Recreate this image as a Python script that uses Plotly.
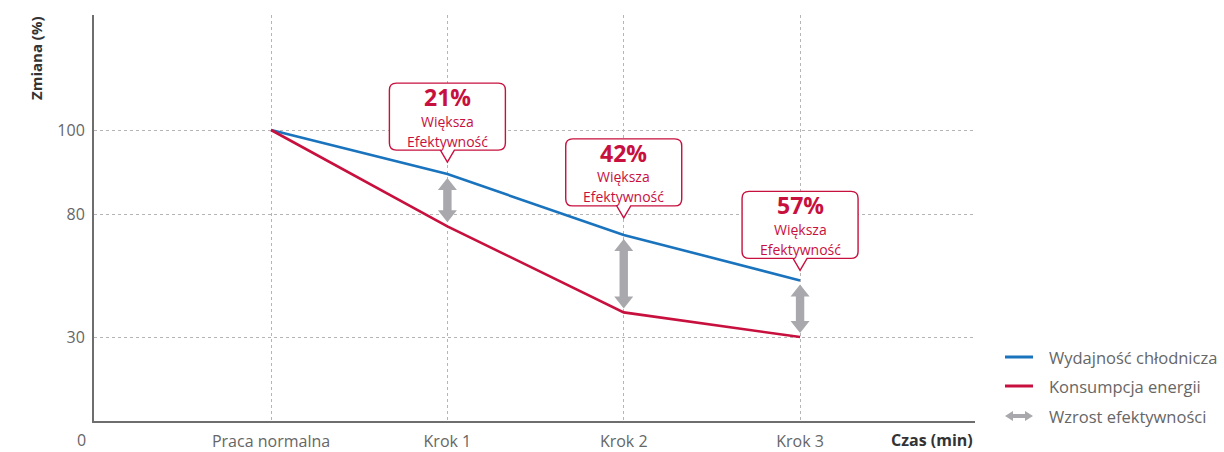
import numpy as np
import plotly.graph_objects as go

# ---------------- data ----------------
categories = ["Praca normalna", "Krok 1", "Krok 2", "Krok 3"]
cooling_capacity = [100, 89.5, 71.5, 53]      # Wydajność chłodnicza (%)
energy_use = [100, 75, 40, 30]                 # Konsumpcja energii (%)
efficiency_gain = ["21%", "42%", "57%"]        # Większa Efektywność
y_tick_values = [30, 80, 100]
y_tick_labels = ["30", "80", "100"]

# ---------------- scale (non-linear axis, as in the reference) ----------------
SCALE_VALUES = [0, 30, 80, 100]
SCALE_POS = [0, 84, 207, 291]


def ypos(v):
    return float(np.interp(v, SCALE_VALUES, SCALE_POS))


xs = list(range(1, len(categories) + 1))
blue_pos = [ypos(v) for v in cooling_capacity]
red_pos = [ypos(v) for v in energy_use]

BLUE = "#1a73bd"
RED = "#c8103e"
GRAY = "#a9a9ad"
TXT = "#666666"
FONT = "Open Sans"

W, H = 1224, 452
L, T = 94, 15
R = W - 975
B = H - 421
plot_w = W - L - R
plot_h = H - T - B
X_RANGE = [-0.004, 4.992]
K = plot_w / (X_RANGE[1] - X_RANGE[0])  # px per x unit

fig = go.Figure()
fig.add_trace(go.Scatter(x=xs, y=blue_pos, mode="lines",
                         line=dict(color=BLUE, width=2.6), name="Wydajność chłodnicza",
                         hoverinfo="skip"))
fig.add_trace(go.Scatter(x=xs, y=red_pos, mode="lines",
                         line=dict(color=RED, width=2.6), name="Konsumpcja energii",
                         hoverinfo="skip"))

shapes = []
annotations = []

# callouts and double arrows at Krok 1..3
tip_offsets = [12, 17, 10]
for i, lab in enumerate(efficiency_gain):
    cx = xs[i + 1]
    bp = blue_pos[i + 1]
    rp = red_pos[i + 1]
    # double arrow
    y1 = bp - 4
    y0 = rp + 4
    hw, sw, hh = 9.5 / K, 4.2 / K, 12
    p = (f"M {cx},{y1} L {cx+hw},{y1-hh} L {cx+sw},{y1-hh} L {cx+sw},{y0+hh} "
         f"L {cx+hw},{y0+hh} L {cx},{y0} L {cx-hw},{y0+hh} L {cx-sw},{y0+hh} "
         f"L {cx-sw},{y1-hh} L {cx-hw},{y1-hh} Z")
    shapes.append(dict(type="path", path=p, xref="x", yref="y", fillcolor=GRAY,
                       line=dict(width=0), layer="above"))
    # callout box
    ty = bp + tip_offsets[i]
    yb = ty + 12
    yt = yb + 67
    xl, xr = cx - 58 / K, cx + 58 / K
    rx, ry = 7 / K, 7
    nw = 7 / K
    p = (f"M {cx},{ty} L {cx+nw},{yb} L {xr-rx},{yb} Q {xr},{yb} {xr},{yb+ry} "
         f"L {xr},{yt-ry} Q {xr},{yt} {xr-rx},{yt} L {xl+rx},{yt} Q {xl},{yt} {xl},{yt-ry} "
         f"L {xl},{yb+ry} Q {xl},{yb} {xl+rx},{yb} L {cx-nw},{yb} Z")
    shapes.append(dict(type="path", path=p, xref="x", yref="y", fillcolor="white",
                       line=dict(color=RED, width=1.4), layer="above"))
    annotations.append(dict(x=cx, y=yt - 14, xref="x", yref="y", text=f"<b>{lab}</b>",
                            showarrow=False, font=dict(family=FONT, size=23, color=RED),
                            xanchor="center", yanchor="middle"))
    annotations.append(dict(x=cx, y=yt - 38, xref="x", yref="y", text="Większa",
                            showarrow=False, font=dict(family=FONT, size=14, color=RED),
                            xanchor="center", yanchor="middle"))
    annotations.append(dict(x=cx, y=yt - 58, xref="x", yref="y", text="Efektywność",
                            showarrow=False, font=dict(family=FONT, size=14, color=RED),
                            xanchor="center", yanchor="middle"))


# manual legend / helpers: reference-pixel -> paper coordinates
def px_x(px):
    return (px - L) / plot_w


def px_y(py):
    return (H - B - py) / plot_h


legend_items = [("Wydajność chłodnicza", BLUE, 357), ("Konsumpcja energii", RED, 386),
                ("Wzrost efektywności", None, 416)]
for text, col, py in legend_items:
    if col:
        shapes.append(dict(type="line", xref="paper", yref="paper",
                           x0=px_x(1005), x1=px_x(1033), y0=px_y(py), y1=px_y(py),
                           line=dict(color=col, width=3)))
    else:
        x0, x1 = px_x(1005), px_x(1033)
        hl = 8 / plot_w
        hh = 5 / plot_h
        sh = 2 / plot_h
        yc = px_y(py)
        p = (f"M {x0},{yc} L {x0+hl},{yc+hh} L {x0+hl},{yc+sh} L {x1-hl},{yc+sh} "
             f"L {x1-hl},{yc+hh} L {x1},{yc} L {x1-hl},{yc-hh} L {x1-hl},{yc-sh} "
             f"L {x0+hl},{yc-sh} L {x0+hl},{yc-hh} Z")
        shapes.append(dict(type="path", path=p, xref="paper", yref="paper",
                           fillcolor=GRAY, line=dict(width=0)))
    annotations.append(dict(x=px_x(1047), y=px_y(py), xref="paper", yref="paper",
                            text=text, showarrow=False, xanchor="left", yanchor="middle",
                            font=dict(family=FONT, size=16.5, color=TXT)))

# axis titles and origin label
annotations.append(dict(x=px_x(36), y=px_y(58), xref="paper", yref="paper",
                        text="<b>Zmiana (%)</b>", textangle=-90, showarrow=False,
                        xanchor="center", yanchor="middle",
                        font=dict(family=FONT, size=15, color="#333333")))
annotations.append(dict(x=px_x(975), y=px_y(440), xref="paper", yref="paper",
                        text="<b>Czas (min)</b>", showarrow=False, xanchor="right",
                        yanchor="middle", font=dict(family=FONT, size=16, color="#333333")))
annotations.append(dict(x=px_x(81), y=px_y(440), xref="paper", yref="paper",
                        text="0", showarrow=False, xanchor="center", yanchor="middle",
                        font=dict(family=FONT, size=16, color=TXT)))

fig.update_layout(
    width=W, height=H,
    margin=dict(l=L, r=R, t=T, b=B, autoexpand=False),
    paper_bgcolor="white", plot_bgcolor="white",
    showlegend=False,
    shapes=shapes, annotations=annotations,
    font=dict(family=FONT, color=TXT),
    xaxis=dict(range=X_RANGE, tickvals=xs, ticktext=categories,
               showgrid=True, gridcolor="#b5b5b5", griddash="dot", gridwidth=1,
               showline=True, linecolor="#6e6e6e", linewidth=2, zeroline=False,
               ticks="outside", ticklen=5, tickcolor="rgba(0,0,0,0)", automargin=False,
               tickfont=dict(family=FONT, size=16, color=TXT), fixedrange=True),
    yaxis=dict(range=[0, plot_h], tickvals=[ypos(v) for v in y_tick_values],
               ticktext=y_tick_labels,
               showgrid=True, gridcolor="#b5b5b5", griddash="dot", gridwidth=1,
               showline=True, linecolor="#6e6e6e", linewidth=2, zeroline=False,
               ticks="outside", ticklen=4, tickcolor="rgba(0,0,0,0)", automargin=False,
               tickfont=dict(family=FONT, size=16, color=TXT), fixedrange=True),
)

fig.write_html(
    "out.html",
    config={"displayModeBar": False, "staticPlot": True},
    post_script="document.body.style.margin='0';document.body.style.overflow='hidden';",
)
